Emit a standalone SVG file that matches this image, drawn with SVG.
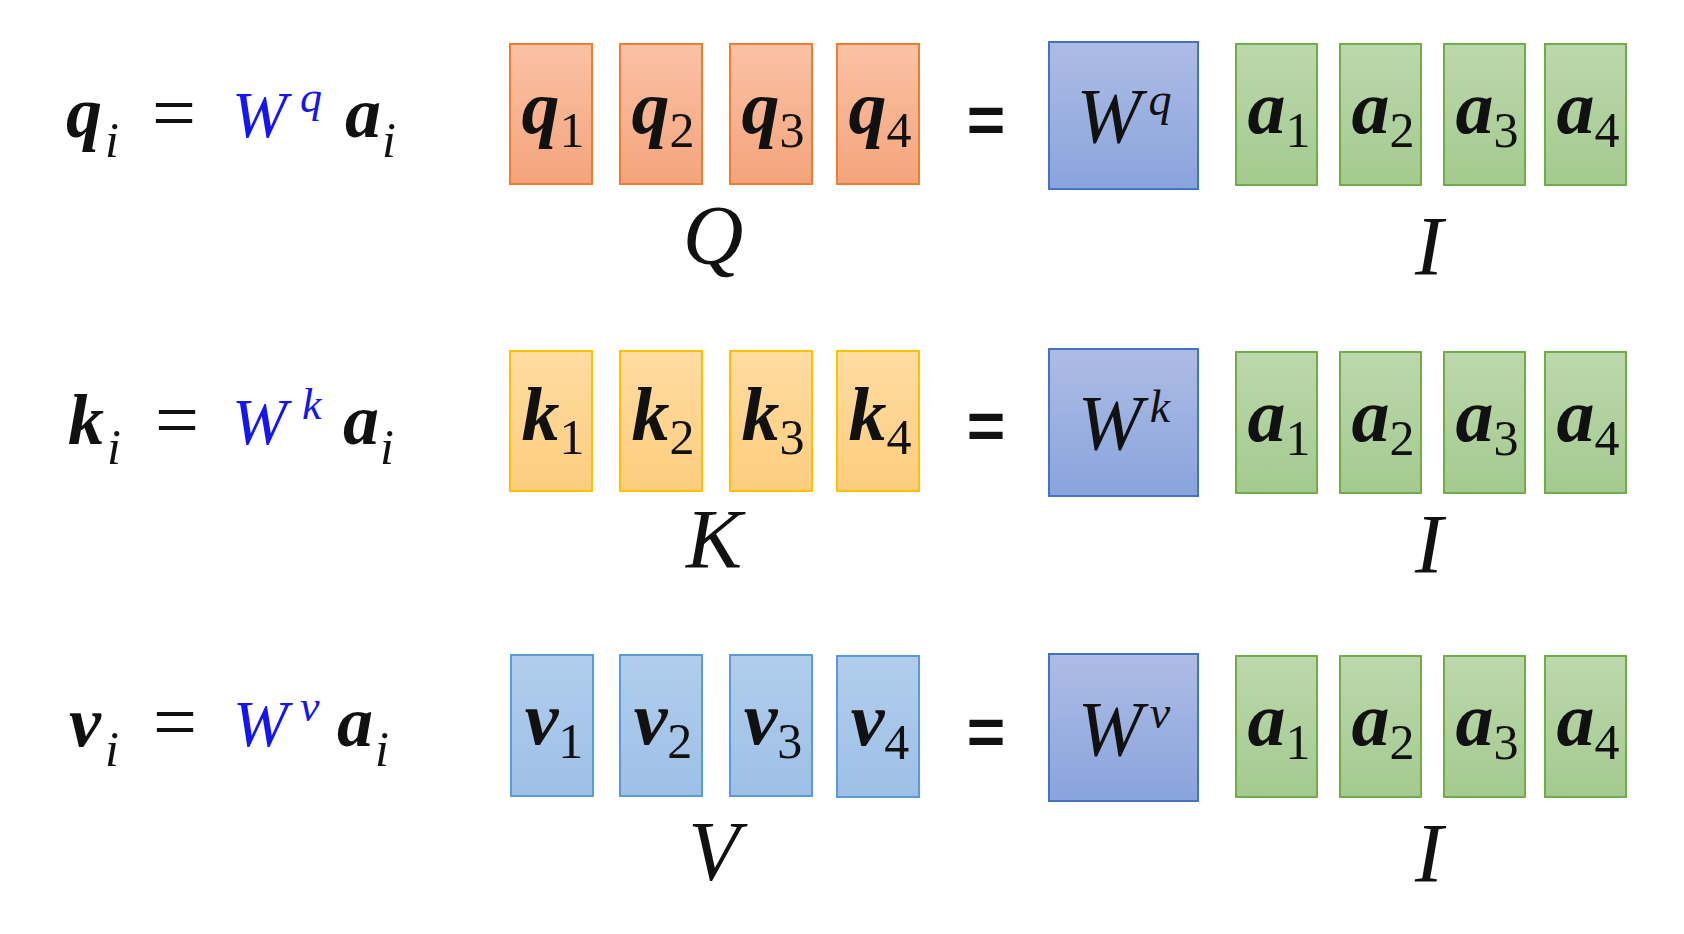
<svg xmlns="http://www.w3.org/2000/svg" width="1684" height="934" viewBox="0 0 1684 934">
<defs>
<linearGradient id="gO" x1="0" y1="0" x2="0" y2="1"><stop offset="0" stop-color="#FAC2A5"/><stop offset="1" stop-color="#F4A47C"/></linearGradient>
<linearGradient id="gY" x1="0" y1="0" x2="0" y2="1"><stop offset="0" stop-color="#FFDCA2"/><stop offset="1" stop-color="#FDCD7E"/></linearGradient>
<linearGradient id="gL" x1="0" y1="0" x2="0" y2="1"><stop offset="0" stop-color="#B1CDEC"/><stop offset="1" stop-color="#9DC0E7"/></linearGradient>
<linearGradient id="gW" x1="0" y1="0" x2="0" y2="1"><stop offset="0" stop-color="#AEBCE5"/><stop offset="1" stop-color="#89A4DC"/></linearGradient>
<linearGradient id="gG" x1="0" y1="0" x2="0" y2="1"><stop offset="0" stop-color="#BCD8AD"/><stop offset="1" stop-color="#A4CA8F"/></linearGradient>
</defs>
<style>
text,tspan{font-family:"Liberation Serif","DejaVu Serif",serif;fill:#111}
.o{fill:url(#gO);stroke:#ED7D31;stroke-width:2}
.y{fill:url(#gY);stroke:#FFC000;stroke-width:2}
.l{fill:url(#gL);stroke:#5B9BD5;stroke-width:2}
.w{fill:url(#gW);stroke:#4472C4;stroke-width:2}
.g{fill:url(#gG);stroke:#70AD47;stroke-width:2}
.v{font-style:italic;font-weight:bold;font-size:76px}
.d{font-style:normal;font-weight:normal;font-size:50px}
.W{font-style:italic;font-size:78px}
.S{font-style:italic;font-size:46px}
.lbl{font-style:italic;font-size:84px}
.eqm{font-family:"Liberation Sans",sans-serif;font-weight:bold;font-size:66px}
.lv{font-style:italic;font-weight:bold;font-size:72px}
.li{font-style:italic;font-size:50px}
.leq{font-size:78px}
.bW{font-style:italic;font-size:66px;fill:#1515EE}
.bS{font-style:italic;font-size:44px;fill:#1515EE}
</style>
<rect width="1684" height="934" fill="#FFFFFF"/>
<g id="connectors"></g>

<!-- Row 1 -->
<g id="eq-q">
<text class="lv" x="66" y="137">q</text><text class="li" x="105" y="157">i</text>
<text class="leq" x="152" y="139">=</text>
<text class="bW" x="232" y="137">W</text><text class="bS" x="300" y="112">q</text>
<text class="lv" x="345" y="137">a</text><text class="li" x="382" y="157">i</text>
</g>
<g id="q1"><rect class="o" x="510" y="44" width="82" height="140"/><text x="553" y="133" text-anchor="middle"><tspan class="v">q</tspan><tspan class="d" dy="14">1</tspan></text></g>
<g id="q2"><rect class="o" x="620" y="44" width="82" height="140"/><text x="663" y="133" text-anchor="middle"><tspan class="v">q</tspan><tspan class="d" dy="14">2</tspan></text></g>
<g id="q3"><rect class="o" x="730" y="44" width="82" height="140"/><text x="773" y="133" text-anchor="middle"><tspan class="v">q</tspan><tspan class="d" dy="14">3</tspan></text></g>
<g id="q4"><rect class="o" x="837" y="44" width="82" height="140"/><text x="880" y="133" text-anchor="middle"><tspan class="v">q</tspan><tspan class="d" dy="14">4</tspan></text></g>
<g id="label-Q"><text class="lbl" x="713" y="264" text-anchor="middle">Q</text></g>
<g id="eq1"><text class="eqm" x="986" y="143" text-anchor="middle">=</text></g>
<g id="Wq"><rect class="w" x="1049" y="42" width="149" height="147"/><text x="1124" y="142" text-anchor="middle"><tspan class="W">W</tspan><tspan class="S" dx="7" dy="-27">q</tspan></text></g>
<g id="a1-r1"><rect class="g" x="1236" y="44" width="81" height="141"/><text x="1279" y="133" text-anchor="middle"><tspan class="v">a</tspan><tspan class="d" dy="14">1</tspan></text></g>
<g id="a2-r1"><rect class="g" x="1340" y="44" width="81" height="141"/><text x="1383" y="133" text-anchor="middle"><tspan class="v">a</tspan><tspan class="d" dy="14">2</tspan></text></g>
<g id="a3-r1"><rect class="g" x="1444" y="44" width="81" height="141"/><text x="1487" y="133" text-anchor="middle"><tspan class="v">a</tspan><tspan class="d" dy="14">3</tspan></text></g>
<g id="a4-r1"><rect class="g" x="1545" y="44" width="81" height="141"/><text x="1588" y="133" text-anchor="middle"><tspan class="v">a</tspan><tspan class="d" dy="14">4</tspan></text></g>
<g id="label-I1"><text class="lbl" x="1429" y="275" text-anchor="middle">I</text></g>

<!-- Row 2 -->
<g id="eq-k">
<text class="lv" x="68" y="444">k</text><text class="li" x="107" y="464">i</text>
<text class="leq" x="155" y="446">=</text>
<text class="bW" x="232" y="444">W</text><text class="bS" x="302" y="419">k</text>
<text class="lv" x="343" y="444">a</text><text class="li" x="380" y="464">i</text>
</g>
<g id="k1"><rect class="y" x="510" y="351" width="82" height="140"/><text x="553" y="440" text-anchor="middle"><tspan class="v">k</tspan><tspan class="d" dy="14">1</tspan></text></g>
<g id="k2"><rect class="y" x="620" y="351" width="82" height="140"/><text x="663" y="440" text-anchor="middle"><tspan class="v">k</tspan><tspan class="d" dy="14">2</tspan></text></g>
<g id="k3"><rect class="y" x="730" y="351" width="82" height="140"/><text x="773" y="440" text-anchor="middle"><tspan class="v">k</tspan><tspan class="d" dy="14">3</tspan></text></g>
<g id="k4"><rect class="y" x="837" y="351" width="82" height="140"/><text x="880" y="440" text-anchor="middle"><tspan class="v">k</tspan><tspan class="d" dy="14">4</tspan></text></g>
<g id="label-K"><text class="lbl" x="714" y="568" text-anchor="middle">K</text></g>
<g id="eq2"><text class="eqm" x="986" y="449" text-anchor="middle">=</text></g>
<g id="Wk"><rect class="w" x="1049" y="349" width="149" height="147"/><text x="1124" y="449" text-anchor="middle"><tspan class="W">W</tspan><tspan class="S" dx="7" dy="-27">k</tspan></text></g>
<g id="a1-r2"><rect class="g" x="1236" y="352" width="81" height="141"/><text x="1279" y="441" text-anchor="middle"><tspan class="v">a</tspan><tspan class="d" dy="14">1</tspan></text></g>
<g id="a2-r2"><rect class="g" x="1340" y="352" width="81" height="141"/><text x="1383" y="441" text-anchor="middle"><tspan class="v">a</tspan><tspan class="d" dy="14">2</tspan></text></g>
<g id="a3-r2"><rect class="g" x="1444" y="352" width="81" height="141"/><text x="1487" y="441" text-anchor="middle"><tspan class="v">a</tspan><tspan class="d" dy="14">3</tspan></text></g>
<g id="a4-r2"><rect class="g" x="1545" y="352" width="81" height="141"/><text x="1588" y="441" text-anchor="middle"><tspan class="v">a</tspan><tspan class="d" dy="14">4</tspan></text></g>
<g id="label-I2"><text class="lbl" x="1429" y="573" text-anchor="middle">I</text></g>

<!-- Row 3 -->
<g id="eq-v">
<text class="lv" x="69" y="746">v</text><text class="li" x="105" y="766">i</text>
<text class="leq" x="153" y="748">=</text>
<text class="bW" x="233" y="746">W</text><text class="bS" x="300" y="721">v</text>
<text class="lv" x="337" y="746">a</text><text class="li" x="375" y="766">i</text>
</g>
<g id="v1"><rect class="l" x="511" y="655" width="82" height="141"/><text x="554" y="744" text-anchor="middle"><tspan class="v">v</tspan><tspan class="d" dy="14">1</tspan></text></g>
<g id="v2"><rect class="l" x="620" y="655" width="82" height="141"/><text x="663" y="744" text-anchor="middle"><tspan class="v">v</tspan><tspan class="d" dy="14">2</tspan></text></g>
<g id="v3"><rect class="l" x="730" y="655" width="82" height="141"/><text x="773" y="744" text-anchor="middle"><tspan class="v">v</tspan><tspan class="d" dy="14">3</tspan></text></g>
<g id="v4"><rect class="l" x="837" y="656" width="82" height="141"/><text x="880" y="745" text-anchor="middle"><tspan class="v">v</tspan><tspan class="d" dy="14">4</tspan></text></g>
<g id="label-V"><text class="lbl" x="714" y="880" text-anchor="middle">V</text></g>
<g id="eq3"><text class="eqm" x="986" y="755" text-anchor="middle">=</text></g>
<g id="Wv"><rect class="w" x="1049" y="654" width="149" height="147"/><text x="1124" y="755" text-anchor="middle"><tspan class="W">W</tspan><tspan class="S" dx="7" dy="-27">v</tspan></text></g>
<g id="a1-r3"><rect class="g" x="1236" y="656" width="81" height="141"/><text x="1279" y="745" text-anchor="middle"><tspan class="v">a</tspan><tspan class="d" dy="14">1</tspan></text></g>
<g id="a2-r3"><rect class="g" x="1340" y="656" width="81" height="141"/><text x="1383" y="745" text-anchor="middle"><tspan class="v">a</tspan><tspan class="d" dy="14">2</tspan></text></g>
<g id="a3-r3"><rect class="g" x="1444" y="656" width="81" height="141"/><text x="1487" y="745" text-anchor="middle"><tspan class="v">a</tspan><tspan class="d" dy="14">3</tspan></text></g>
<g id="a4-r3"><rect class="g" x="1545" y="656" width="81" height="141"/><text x="1588" y="745" text-anchor="middle"><tspan class="v">a</tspan><tspan class="d" dy="14">4</tspan></text></g>
<g id="label-I3"><text class="lbl" x="1429" y="882" text-anchor="middle">I</text></g>
</svg>
